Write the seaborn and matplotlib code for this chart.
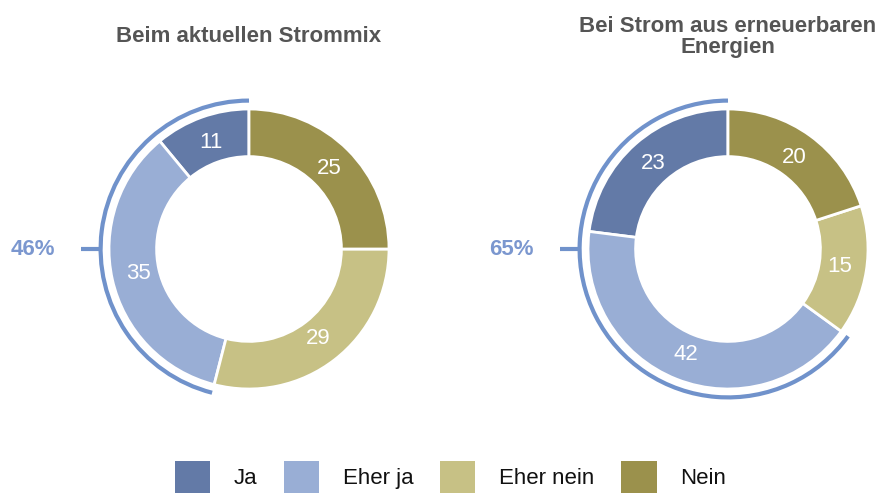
import matplotlib
matplotlib.use("Agg")
import matplotlib.pyplot as plt
import seaborn as sns
from matplotlib.patches import Arc, Patch

# survey answers (percent)
categories = ["Ja", "Eher ja", "Eher nein", "Nein"]
strommix = [11, 35, 29, 25]
erneuerbar = [23, 42, 15, 20]
titles = ["Beim aktuellen Strommix", "Bei Strom aus erneuerbaren\nEnergien"]

colors = ["#637aa7", "#99aed5", "#c7c185", "#9b914c"]
arc_color = "#7092cb"
label_color = "#7b97cf"

sns.set_theme(style="white")
plt.rcParams["font.family"] = ["Liberation Sans", "DejaVu Sans"]

W, H = 879, 494
fig = plt.figure(figsize=(W / 100, H / 100), dpi=100)

R = 140  # outer radius in px
L = 1.2  # half-range of axes in data units
side = 2 * L * R


def donut(cx, cy, values, title):
    ax = fig.add_axes([(cx - side / 2) / W, (H - cy - side / 2) / H, side / W, side / H])
    wedges, _, texts = ax.pie(values, colors=colors, startangle=90, counterclock=True,
                              autopct=lambda p: f"{p:.0f}", pctdistance=0.81,
                              wedgeprops=dict(width=0.34, edgecolor="white", linewidth=2))
    for t in texts:
        t.set_color("white")
        t.set_fontsize(16)
    yes = values[0] + values[1]
    r = 1.06
    ax.add_patch(Arc((0, 0), 2 * r, 2 * r, theta1=90, theta2=90 + 360 * yes / sum(values),
                     color=arc_color, lw=3))
    ax.plot([-r, -1.25], [0, 0], color=arc_color, lw=3, solid_capstyle="butt")
    ax.text(-1.385, 0, f"{yes}%", ha="right", va="center", fontsize=16,
            fontweight="bold", color=label_color)
    ax.set_xlim(-L, L)
    ax.set_ylim(-L, L)
    ax.set_aspect("equal")
    ax.axis("off")
    fig.text(cx / W, (H - 37) / H, title, ha="center", va="center", fontsize=16,
             fontweight="bold", color="#555555", linespacing=1.05)


donut(249, 249, strommix, titles[0])
donut(728, 249, erneuerbar, titles[1])

handles = [Patch(facecolor=c, edgecolor="none") for c in colors]
fig.legend(handles, categories, loc="lower center", bbox_to_anchor=(0.5125, -0.02),
           ncol=4, frameon=False, fontsize=16, handlelength=1.58, handleheight=1.8,
           handletextpad=1.08, columnspacing=1.2, borderpad=0, labelcolor="#111111")

fig.savefig("out.png", dpi=100)
